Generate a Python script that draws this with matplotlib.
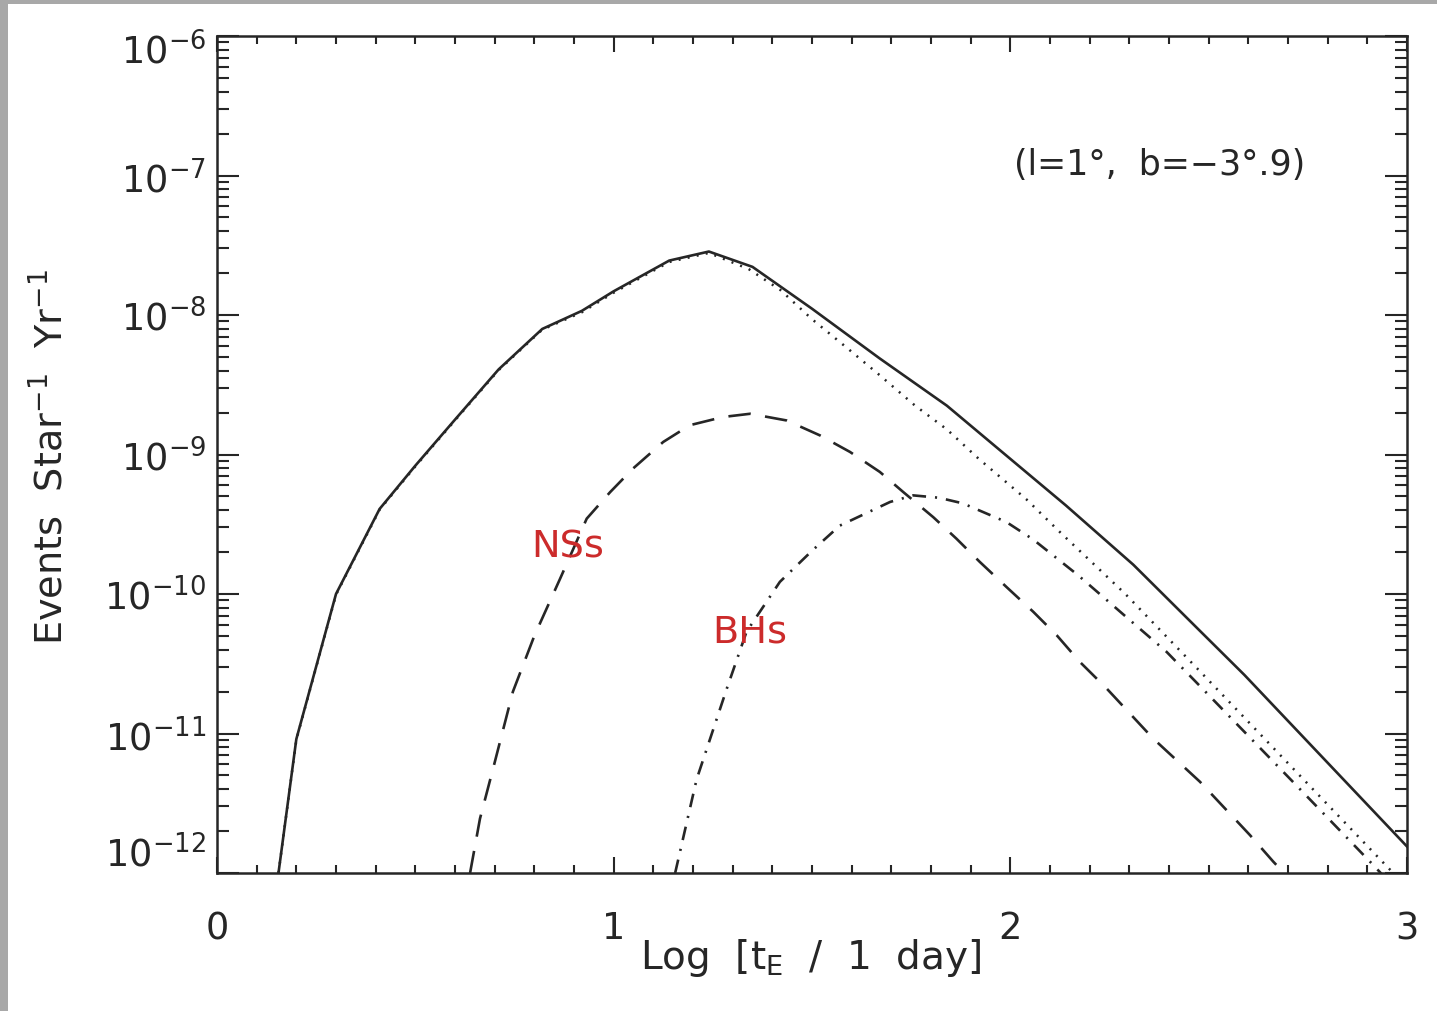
import numpy as np
import matplotlib
matplotlib.use("Agg")
import matplotlib.pyplot as plt
from matplotlib.patches import Rectangle
from matplotlib.ticker import FixedLocator, LogLocator, NullFormatter
import matplotlib.transforms as mtransforms

# curves: x = log10(tE / 1 day), y = log10(events / star / yr)
total_x = [0.155, 0.20, 0.30, 0.41, 0.50, 0.60, 0.71, 0.82, 0.92, 1.00, 1.14, 1.24,
           1.35, 1.50, 1.67, 1.84, 1.97, 2.14, 2.31, 2.48, 2.59, 3.00]
total_y = [-12.0, -11.04, -10.0, -9.39, -9.08, -8.75, -8.39, -8.10, -7.97, -7.83, -7.61, -7.545,
           -7.655, -7.955, -8.31, -8.65, -8.96, -9.365, -9.79, -10.27, -10.58, -11.81]

other_x = [0.155, 0.20, 0.30, 0.41, 0.50, 0.60, 0.71, 0.82, 0.92, 1.00, 1.14, 1.24,
           1.34, 1.42, 1.50, 1.59, 1.67, 1.76, 1.84, 1.92, 2.04, 2.13, 2.29, 2.48, 2.95, 3.0]
other_y = [-12.0, -11.045, -10.005, -9.395, -9.085, -8.755, -8.395, -8.105, -7.98, -7.84, -7.62, -7.555,
           -7.67, -7.82, -8.03, -8.24, -8.43, -8.65, -8.82, -9.03, -9.32, -9.57, -10.0, -10.56, -11.955, -12.1]

ns_x = [0.638, 0.663, 0.698, 0.746, 0.80, 0.865, 0.932, 0.991, 1.049, 1.125, 1.192, 1.276,
        1.344, 1.436, 1.52, 1.596, 1.671, 1.73, 1.806, 1.864, 1.923, 1.99, 2.058, 2.117,
        2.175, 2.243, 2.36, 2.478, 2.604, 2.663, 2.70]
ns_y = [-12.0, -11.61, -11.23, -10.70, -10.30, -9.89, -9.46, -9.27, -9.10, -8.91, -8.79, -8.731,
        -8.708, -8.756, -8.863, -8.982, -9.125, -9.269, -9.45, -9.603, -9.77, -9.949, -10.128, -10.296,
        -10.486, -10.678, -11.036, -11.346, -11.728, -11.919, -12.03]

bh_x = [1.155, 1.209, 1.285, 1.335, 1.419, 1.50, 1.57, 1.697, 1.755, 1.82, 1.88, 1.99,
        2.058, 2.171, 2.285, 2.394, 2.478, 2.70, 2.915, 2.95]
bh_y = [-12.0, -11.33, -10.68, -10.27, -9.913, -9.69, -9.51, -9.34, -9.293, -9.31, -9.35, -9.484,
        -9.61, -9.866, -10.147, -10.415, -10.66, -11.31, -11.943, -12.05]

x_ticks = [0, 1, 2, 3]
y_ticks = [1e-12, 1e-11, 1e-10, 1e-9, 1e-8, 1e-7, 1e-6]
y_ticklabels = ['$10^{-12}$', '$10^{-11}$', '$10^{-10}$', '$10^{-9}$',
                '$10^{-8}$', '$10^{-7}$', '$10^{-6}$']

plt.rcParams['font.family'] = ['DejaVu Sans']
plt.rcParams['mathtext.default'] = 'regular'

ink = '#262626'
fig = plt.figure(figsize=(14.37, 10.12), dpi=100)
fig.patch.set_facecolor('#a8a8a8')
fig.add_artist(Rectangle((8 / 1437, 0), 1, 1 - 5 / 1012, transform=fig.transFigure,
                         facecolor='white', edgecolor='none', zorder=-10))

ax = fig.add_axes([217 / 1437, 1 - 874 / 1012, (1407 - 217) / 1437, (874 - 37) / 1012])
lw = 1.9
ax.plot(total_x, 10 ** np.array(total_y), color=ink, lw=lw, solid_joinstyle='round')
ax.plot(other_x, 10 ** np.array(other_y), color=ink, lw=1.8, linestyle=(0, (0.8, 2.9)))
ax.plot(ns_x, 10 ** np.array(ns_y), color=ink, lw=lw, linestyle=(0, (8.5, 5.5)))
ax.plot(bh_x, 10 ** np.array(bh_y), color=ink, lw=lw, linestyle=(0, (5.2, 3.4, 0.8, 3.4)))

ax.set_yscale('log')
ax.set_xlim(0, 3)
ax.set_ylim(1e-12, 1e-6)

ax.xaxis.set_major_locator(FixedLocator(x_ticks))
ax.xaxis.set_minor_locator(FixedLocator(np.arange(0, 3.01, 0.1)))
ax.set_xticklabels([str(t) for t in x_ticks])
ax.set_yticks(y_ticks)
ax.set_yticklabels(y_ticklabels)
ax.yaxis.set_minor_locator(LogLocator(base=10, subs=np.arange(2, 10), numticks=20))
ax.yaxis.set_minor_formatter(NullFormatter())

ax.tick_params(axis='both', which='both', direction='in', top=True, right=True,
               color=ink, width=1.5, labelcolor=ink)
ax.tick_params(axis='y', which='major', length=16, labelsize=26.5, pad=8)
ax.tick_params(axis='y', which='minor', length=8.5)
ax.tick_params(axis='x', which='major', length=11.5, labelsize=26.5, pad=26)
ax.tick_params(axis='x', which='minor', length=5.5)
for s in ax.spines.values():
    s.set_linewidth(1.8)
    s.set_color(ink)

# nudge the end labels inward like the original
ylabs = ax.get_yticklabels()
ylabs[0].set_transform(ylabs[0].get_transform() +
                       mtransforms.ScaledTranslation(0, 22 / 100, fig.dpi_scale_trans))
ylabs[-1].set_transform(ylabs[-1].get_transform() +
                        mtransforms.ScaledTranslation(0, -12 / 100, fig.dpi_scale_trans))

ax.text(0.792, 0.847, '(l=1°,  b=−3°.9)', transform=ax.transAxes, fontsize=25,
        ha='center', va='center', color=ink)
ax.text(0.885, 10 ** -9.66, 'NSs', fontsize=27.5, color='#cc2b2b', ha='center', va='center')
ax.text(1.344, 10 ** -10.27, 'BHs', fontsize=27.5, color='#cc2b2b', ha='center', va='center')

fig.text(50 / 1437, 1 - 457 / 1012, 'Events  Star$^{-1}$  Yr$^{-1}$', rotation=90,
         fontsize=27.5, ha='center', va='center', color=ink)
fig.text(811 / 1437, 1 - 958 / 1012, 'Log  [t$_{E}$  /  1  day]', fontsize=28,
         ha='center', va='center', color=ink)

fig.savefig('out.png', dpi=100, facecolor=fig.get_facecolor())
